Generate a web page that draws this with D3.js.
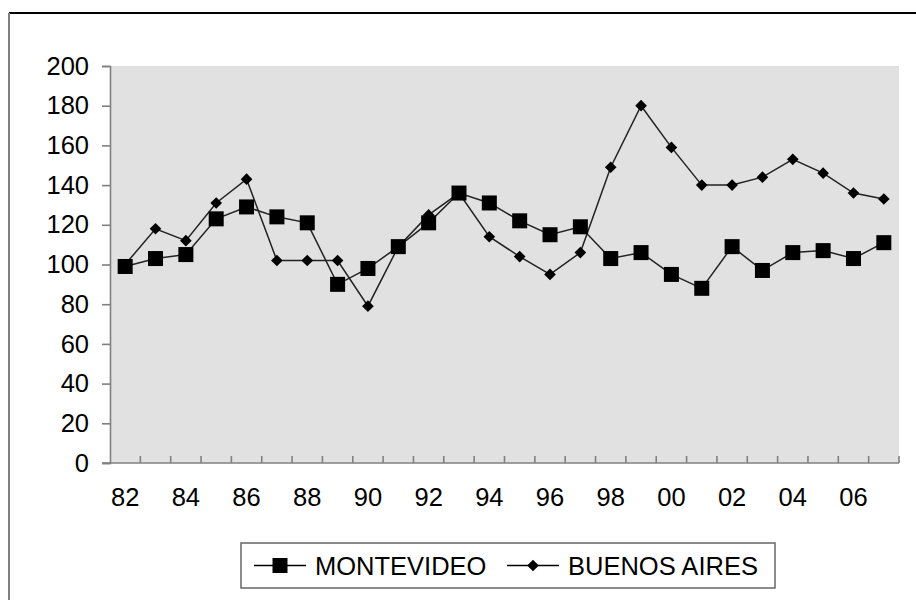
<!DOCTYPE html>
<html>
<head>
<meta charset="utf-8">
<script src="https://cdn.jsdelivr.net/npm/d3@7"></script>
<style>
  html, body { margin: 0; padding: 0; background: #fff; }
  svg { display: block; font-family: "Liberation Sans", Arial, sans-serif; }
</style>
</head>
<body>
<svg id="chart" width="916" height="600"></svg>
<script>
// Years 1982–2007, shown as two-digit labels
const years = ["82","83","84","85","86","87","88","89","90","91","92","93","94",
               "95","96","97","98","99","00","01","02","03","04","05","06","07"];
const montevideo = [99, 103, 105, 123, 129, 124, 121, 90, 98, 109, 121, 136, 131,
                    122, 115, 119, 103, 106, 95, 88, 109, 97, 106, 107, 103, 111];
const buenosAires = [100, 118, 112, 131, 143, 102, 102, 102, 79, 109, 125, 136, 114,
                     104, 95, 106, 149, 180, 159, 140, 140, 144, 153, 146, 136, 133];
const yTicks = [0, 20, 40, 60, 80, 100, 120, 140, 160, 180, 200];
const seriesNames = ["MONTEVIDEO", "BUENOS AIRES"];

const FONT = 25.5;
const svg = d3.select("#chart");
const plot = { left: 110, right: 899, top: 66, bottom: 463 };

// Outer frame (top and left edges visible)
svg.append("line").attr("x1", 9).attr("x2", 916).attr("y1", 13).attr("y2", 13)
  .attr("stroke", "#000").attr("stroke-width", 2);
svg.append("line").attr("x1", 9).attr("x2", 9).attr("y1", 13).attr("y2", 600)
  .attr("stroke", "#808080").attr("stroke-width", 2);

const x = d3.scaleBand().domain(years).range([plot.left, plot.right]).padding(0);
const y = d3.scaleLinear().domain([0, 200]).range([plot.bottom, plot.top]);
const cx = d => x(d) + x.bandwidth() / 2;

// Plot background
svg.append("rect")
  .attr("x", plot.left).attr("y", plot.top)
  .attr("width", plot.right - plot.left).attr("height", plot.bottom - plot.top)
  .attr("fill", "#e1e1e1");

// Y axis
const yAxis = svg.append("g")
  .attr("transform", `translate(${plot.left},0)`)
  .call(d3.axisLeft(y).tickValues(yTicks).tickSize(8).tickPadding(13));
yAxis.select(".domain").attr("stroke", "#808080").attr("stroke-width", 1.6);
yAxis.selectAll(".tick line").attr("stroke", "#808080").attr("stroke-width", 1.6);
yAxis.selectAll(".tick text").attr("font-size", FONT).attr("fill", "#000")
  .attr("font-family", "'Liberation Sans', Arial, sans-serif");

// X axis labels (every other year), centred on the categories
const xAxis = svg.append("g")
  .attr("transform", `translate(0,${plot.bottom})`)
  .call(d3.axisBottom(x).tickValues(years.filter((d, i) => i % 2 === 0))
        .tickSize(0).tickPadding(25));
xAxis.select(".domain").remove();
xAxis.selectAll(".tick text").attr("font-size", FONT).attr("fill", "#000")
  .attr("font-family", "'Liberation Sans', Arial, sans-serif");

// Bottom axis line and category-boundary tick marks pointing into the plot
svg.append("line").attr("x1", plot.left - 8).attr("x2", plot.right)
  .attr("y1", plot.bottom).attr("y2", plot.bottom)
  .attr("stroke", "#808080").attr("stroke-width", 1.6);
svg.append("g").selectAll("line")
  .data(years.slice(1).concat(["end"]))
  .join("line")
  .attr("x1", (d, i) => plot.left + (i + 1) * x.step())
  .attr("x2", (d, i) => plot.left + (i + 1) * x.step())
  .attr("y1", plot.bottom).attr("y2", plot.bottom - 7)
  .attr("stroke", "#808080").attr("stroke-width", 1.6);

const line = d3.line().x((d, i) => cx(years[i])).y(d => y(d));

// Buenos Aires series: thin line with diamond markers
svg.append("path").datum(buenosAires)
  .attr("d", line).attr("fill", "none").attr("stroke", "#222").attr("stroke-width", 1.5);
const diamond = d3.symbol().type(d3.symbolSquare).size(68);
svg.append("g").selectAll("path")
  .data(buenosAires).join("path")
  .attr("d", diamond)
  .attr("transform", (d, i) => `translate(${cx(years[i])},${y(d)}) rotate(45)`)
  .attr("fill", "#000");

// Montevideo series: thin line with square markers
svg.append("path").datum(montevideo)
  .attr("d", line).attr("fill", "none").attr("stroke", "#222").attr("stroke-width", 1.5);
svg.append("g").selectAll("rect")
  .data(montevideo).join("rect")
  .attr("x", (d, i) => cx(years[i]) - 7.5).attr("y", d => y(d) - 7.5)
  .attr("width", 15).attr("height", 15).attr("fill", "#000");

// Legend
const legend = svg.append("g");
legend.append("rect").attr("x", 241).attr("y", 543).attr("width", 534).attr("height", 45)
  .attr("fill", "#fff").attr("stroke", "#666").attr("stroke-width", 1.5);
const legendY = 565.5;
const items = [
  { name: seriesNames[0], x0: 254, marker: "square" },
  { name: seriesNames[1], x0: 507, marker: "diamond" }
];
items.forEach(it => {
  legend.append("line").attr("x1", it.x0).attr("x2", it.x0 + 52)
    .attr("y1", legendY).attr("y2", legendY).attr("stroke", "#000").attr("stroke-width", 1.5);
  if (it.marker === "square") {
    legend.append("rect").attr("x", it.x0 + 26 - 7.5).attr("y", legendY - 7.5)
      .attr("width", 15).attr("height", 15).attr("fill", "#000");
  } else {
    legend.append("path").attr("d", diamond)
      .attr("transform", `translate(${it.x0 + 26},${legendY}) rotate(45)`).attr("fill", "#000");
  }
  legend.append("text").attr("x", it.x0 + 61).attr("y", legendY)
    .attr("dy", "0.36em").attr("font-size", FONT).attr("fill", "#000")
    .text(it.name);
});
</script>
</body>
</html>
